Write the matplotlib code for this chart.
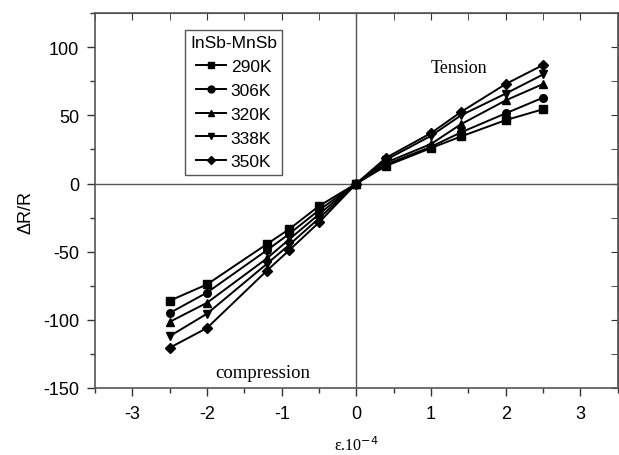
import matplotlib
matplotlib.use("Agg")
import matplotlib.pyplot as plt
from matplotlib.ticker import MultipleLocator

plt.rcParams["axes.unicode_minus"] = False

strain = [-2.5, -2.0, -1.2, -0.9, -0.5, 0.0, 0.4, 1.0, 1.4, 2.0, 2.5]
labels = ["290K", "306K", "320K", "338K", "350K"]
markers = ["s", "o", "^", "v", "D"]
dR_290 = [-86, -74, -44.5, -33.5, -16.5, 0, 13, 26, 34.5, 46.5, 54.5]
dR_306 = [-95, -80, -49, -37, -19.5, 0, 14, 27, 37.5, 51.5, 63]
dR_320 = [-101.5, -87.5, -55, -41, -22.5, 0, 15.5, 29, 43.5, 61, 73]
dR_338 = [-112, -95.5, -59, -45, -25.5, 0, 17.5, 35, 50, 66, 80]
dR_350 = [-120.5, -106, -64, -49, -28.5, 0, 19, 37, 52.5, 73, 87]
series = [dR_290, dR_306, dR_320, dR_338, dR_350]

fig = plt.figure(figsize=(6.19, 4.56), dpi=100)
ax = fig.add_axes([0.1535, 0.147, 0.8445, 0.822])

ax.axhline(0, color="#555555", lw=1.0, zorder=1)
ax.axvline(0, color="#555555", lw=1.0, zorder=1)

for y, lab, m in zip(series, labels, markers):
    ms = 5.0 if m == "D" else 5.5
    ax.plot(strain, y, color="black", lw=1.4, marker=m, ms=ms, label=lab, zorder=3)

ax.set_xlim(-3.5, 3.5)
ax.set_ylim(-150, 125)
ax.xaxis.set_major_locator(MultipleLocator(1))
ax.xaxis.set_minor_locator(MultipleLocator(0.5))
ax.yaxis.set_major_locator(MultipleLocator(50))
ax.yaxis.set_minor_locator(MultipleLocator(25))
ax.tick_params(which="both", direction="out", width=1.0, colors="#333333",
               labelcolor="black", labelsize=13, labelfontfamily="Liberation Sans")
ax.tick_params(which="major", length=5.5)
ax.tick_params(which="minor", length=3.5)
ax.tick_params(axis="x", which="major", pad=7)
ax.tick_params(axis="y", which="major", pad=6)
for s in ax.spines.values():
    s.set_color("#555555")
    s.set_linewidth(1.2)

secx = ax.secondary_xaxis("top")
secx.xaxis.set_major_locator(MultipleLocator(1))
secx.xaxis.set_minor_locator(MultipleLocator(0.5))
secx.tick_params(which="both", direction="in", length=5, labeltop=False, colors="#333333")
secx.spines["top"].set_color("#555555")
secy = ax.secondary_yaxis("right")
secy.yaxis.set_major_locator(MultipleLocator(50))
secy.yaxis.set_minor_locator(MultipleLocator(25))
secy.tick_params(which="both", direction="in", length=5, labelright=False, colors="#333333")
secy.spines["right"].set_color("#555555")

ax.set_ylabel("ΔR/R", fontsize=13, family="Liberation Sans")
ax.yaxis.set_label_coords(-0.115, 0.47)
ax.set_xlabel(r"ε.10$^{-4}$", fontsize=11.5, family="Liberation Serif", labelpad=9)

ax.text(1.37, 85, "Tension", fontsize=13, family="Liberation Serif", ha="center", va="center")
ax.text(-1.26, -139, "compression", fontsize=13.5, family="Liberation Serif", ha="center", va="center")

leg = ax.legend(title="InSb-MnSb", loc="upper left", bbox_to_anchor=(0.172, 0.955),
                prop={"family": "Liberation Sans", "size": 12.5},
                title_fontproperties={"family": "Liberation Sans", "size": 12.5},
                fancybox=False, framealpha=1, edgecolor="#555555",
                handlelength=1.7, handletextpad=0.3, labelspacing=0.5,
                borderpad=0.3, borderaxespad=0, markerscale=0.9)
leg.get_frame().set_linewidth(1.0)

fig.savefig("out.png", dpi=100)
